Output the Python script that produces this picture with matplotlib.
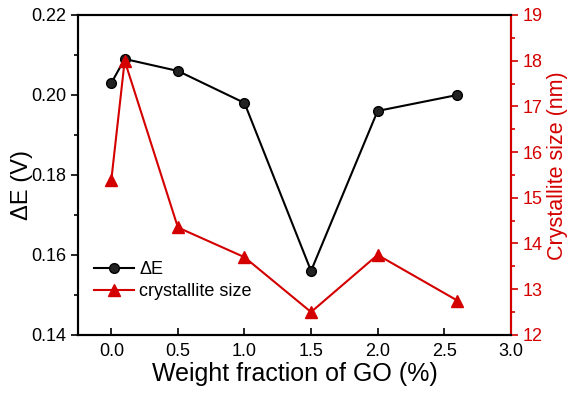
import matplotlib.pyplot as plt
from matplotlib.ticker import MultipleLocator

plt.rcParams['font.family'] = ['Liberation Sans', 'DejaVu Sans']

go_fraction = [0.0, 0.1, 0.5, 1.0, 1.5, 2.0, 2.6]
delta_e = [0.203, 0.209, 0.206, 0.198, 0.156, 0.196, 0.200]
cryst_size = [15.4, 18.0, 14.35, 13.7, 12.5, 13.75, 12.75]

red = '#d40000'

fig, ax = plt.subplots(figsize=(5.7, 3.94), dpi=100)
fig.subplots_adjust(left=0.137, right=0.896, top=0.962, bottom=0.15)

l1, = ax.plot(go_fraction, delta_e, c='black', lw=1.5, marker='o', ms=7,
              mfc='#222222', mec='black', label='\u0394E')
ax2 = ax.twinx()
l2, = ax2.plot(go_fraction, cryst_size, c=red, lw=1.5, marker='^', ms=8,
               mfc=red, mec=red, label='crystallite size')

ax.set_xlim(-0.25, 3.0)
ax.set_ylim(0.14, 0.22)
ax2.set_ylim(12, 19)

ax.xaxis.set_major_locator(MultipleLocator(0.5))
ax.yaxis.set_major_locator(MultipleLocator(0.02))
ax.yaxis.set_minor_locator(MultipleLocator(0.01))
ax2.yaxis.set_major_locator(MultipleLocator(1))
ax2.yaxis.set_minor_locator(MultipleLocator(0.5))

ax.tick_params(axis='x', direction='in', length=5, width=1.2, labelsize=13, top=False, pad=6)
ax.tick_params(axis='y', which='major', direction='out', length=5, width=1.2, labelsize=13)
ax.tick_params(axis='y', which='minor', direction='out', length=3, width=1.2)
ax2.tick_params(axis='y', which='major', direction='out', length=5, width=1.2,
                labelsize=13, colors=red)
ax2.tick_params(axis='y', which='minor', direction='out', length=3, width=1.2, colors=red)

for s in ax.spines.values():
    s.set_linewidth(1.5)
for s in ax2.spines.values():
    s.set_linewidth(1.5)
ax2.spines['right'].set_color(red)

ax.set_xlabel('Weight fraction of GO (%)', fontsize=18)
ax.xaxis.set_label_coords(0.5, -0.085)
ax.set_ylabel('\u0394E (V)', fontsize=17)
ax.yaxis.set_label_coords(-0.104, 0.47)
ax2.set_ylabel('Crystallite size (nm)', fontsize=15.5, color=red)
ax2.yaxis.set_label_coords(1.084, 0.53)

ax.legend(handles=[l1, l2], loc='lower left', bbox_to_anchor=(0.0, 0.057),
          frameon=False, fontsize=13, handlelength=2.2, handletextpad=0.3,
          labelspacing=0.3)

fig.savefig('out.png')
